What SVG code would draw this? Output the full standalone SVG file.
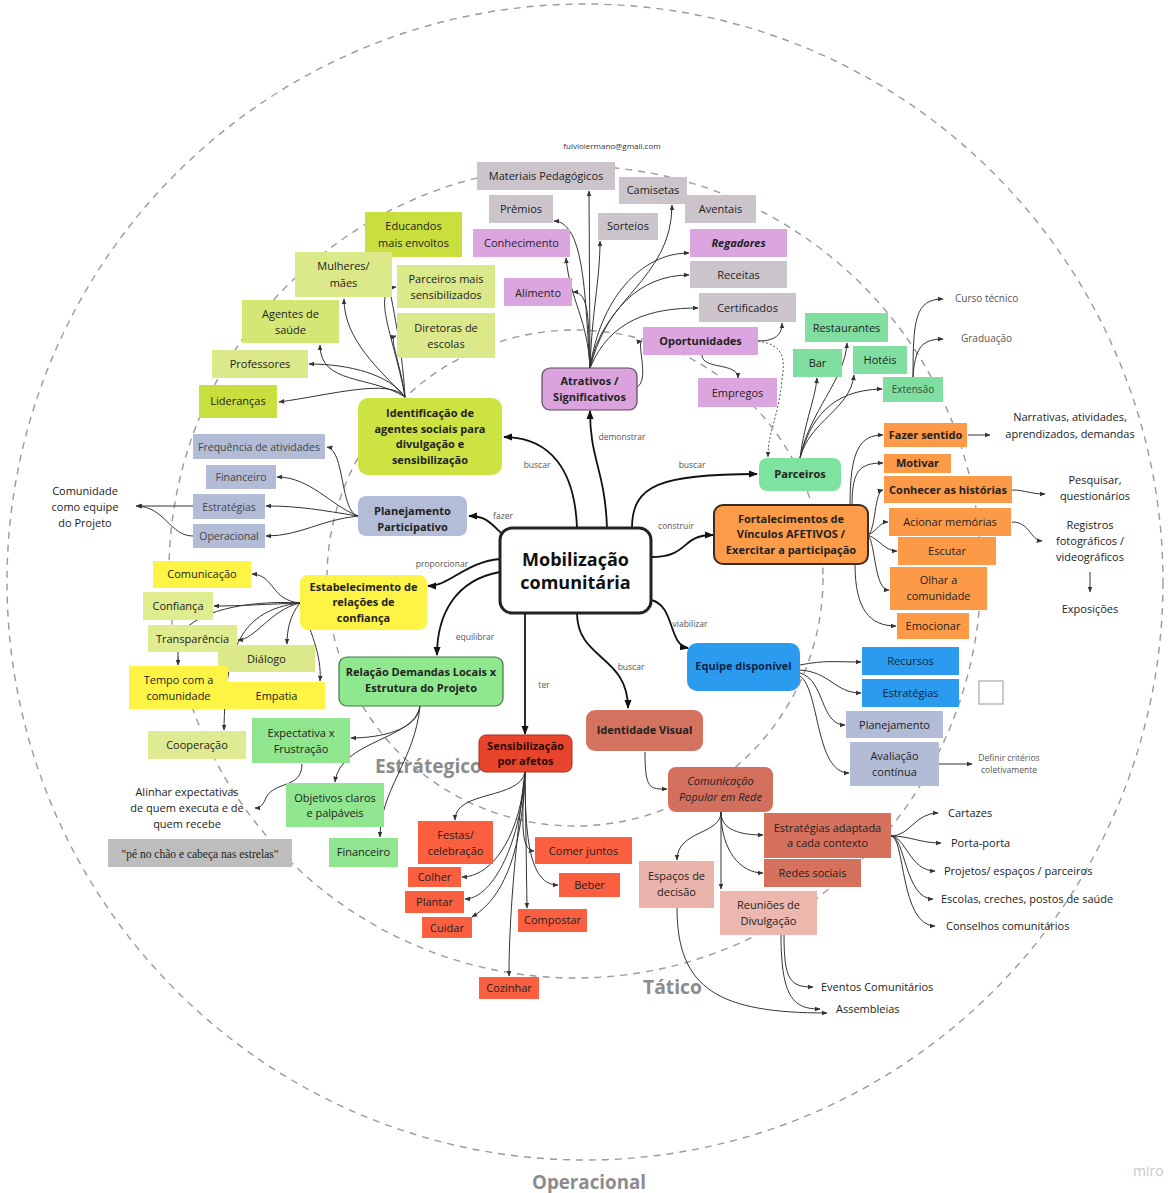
<svg xmlns="http://www.w3.org/2000/svg" width="1168" height="1193" viewBox="0 0 1168 1193">
<defs>
<style>
.ring{fill:none;stroke:#9a9a9a;stroke-width:1.4;stroke-dasharray:7 6}
.zone{font-family:"Open Sans","Liberation Sans",sans-serif;font-weight:700;font-size:20px;fill:#8c8c8c}
.c{fill:none;stroke:#333;stroke-width:1;marker-end:url(#a)}
.m{fill:none;stroke:#111;stroke-width:1.8;marker-end:url(#A)}
.dot{fill:none;stroke:#555;stroke-width:1;stroke-dasharray:2 2;marker-end:url(#a)}
.t{font-family:"Open Sans","Liberation Sans",sans-serif;font-size:11px;fill:#222;text-anchor:middle}
.s{font-size:10.5px}
.b{font-weight:700}
.i{font-style:italic}
.n{font-family:"Open Sans","Liberation Sans",sans-serif;font-size:11px;fill:#222}
.g{fill:#555;font-size:10px}
.lbl{font-family:"Open Sans","Liberation Sans",sans-serif;font-size:8.5px;fill:#555;text-anchor:middle}
.lime1{fill:#c8df3e}.lime2{fill:#dbe98b}.lime3{fill:#d4e775}
.gray{fill:#cbc5cb}.pink{fill:#dba6df}.grn{fill:#80dfa0}.org{fill:#fd9a48}
.pg{fill:#b3bcd6}.yel{fill:#fef445}.lg{fill:#8fe68f}.red{fill:#fa5f3f}
.sal{fill:#d6715e}.lp{fill:#eab4aa}.blu{fill:#2b9bf0}
</style>
<marker id="a" viewBox="0 0 10 10" refX="9" refY="5" markerWidth="6" markerHeight="6" markerUnits="userSpaceOnUse" orient="auto"><path d="M0,1 L10,5 L0,9 z" fill="#333"/></marker>
<marker id="A" viewBox="0 0 10 10" refX="9" refY="5" markerWidth="9" markerHeight="9" markerUnits="userSpaceOnUse" orient="auto"><path d="M0,1 L10,5 L0,9 z" fill="#111"/></marker>
</defs>
<rect width="1168" height="1193" fill="#fff"/>

<!-- planning levels -->
<g id="rings">
<circle class="ring" cx="585" cy="582" r="578"/>
<circle class="ring" cx="575" cy="572" r="406"/>
<circle class="ring" cx="575" cy="578" r="248"/>
<text class="zone" x="375" y="773" textLength="107" lengthAdjust="spacingAndGlyphs">Estrátegico</text>
<text class="zone" x="643" y="994" textLength="59" lengthAdjust="spacingAndGlyphs">Tático</text>
<text class="zone" x="532" y="1189" textLength="114" lengthAdjust="spacingAndGlyphs">Operacional</text>
<text x="1133" y="1176" font-family="Open Sans, sans-serif" font-size="14" fill="#c8c8c8">miro</text>
</g>

<g id="connectors">
<!-- from the centre -->
<path class="m" d="M577,528 C575,470 550,437 504,437"/>
<path class="m" d="M607,528 C605,470 590,460 590,411"/>
<path class="m" d="M632,528 C632,485 660,474 757,474"/>
<path class="m" d="M501,533 C490,522 485,516 469,516"/>
<path class="m" d="M651,557 C690,557 680,535 713,535"/>
<path class="m" d="M500,559 C465,562 450,586 428,586"/>
<path class="m" d="M500,572 C455,580 437,615 437,655"/>
<path class="m" d="M525,613 L525,734"/>
<path class="m" d="M577,613 C577,660 628,655 628,708"/>
<path class="m" d="M651,600 C675,605 668,645 688,648"/>

<!-- agentes sociais -->
<path class="c" d="M405,397 C390,378 330,395 279,402"/>
<path class="c" d="M405,397 C390,375 350,364 309,364"/>
<path class="c" d="M405,397 C370,375 320,385 320,345"/>
<path class="c" d="M405,397 C380,370 344,340 344,299"/>
<path class="c" d="M405,397 C402,340 390,300 385,258"/>
<path class="c" d="M405,397 C395,340 370,290 396,287"/>
<path class="c" d="M405,397 C400,360 388,338 396,336"/>

<!-- atrativos -->
<path class="c" d="M590,368 L589,191"/>
<path class="c" d="M590,368 C585,300 585,222 554,221"/>
<path class="c" d="M590,368 C588,320 570,300 566,258"/>
<path class="c" d="M590,368 C588,320 590,292 573,292"/>
<path class="c" d="M590,368 C592,310 600,280 600,241"/>
<path class="c" d="M590,368 C600,300 672,280 672,205"/>
<path class="c" d="M590,368 C600,300 640,253 689,253"/>
<path class="c" d="M590,368 C605,310 640,275 689,275"/>
<path class="c" d="M590,368 C610,320 650,308 698,308"/>
<path class="c" d="M637,387 C650,380 636,342 642,341"/>
<path class="c" d="M758,341 C775,341 782,335 782,323"/>
<path class="dot" d="M758,341 C785,345 785,360 782,380 C778,420 768,430 768,457"/>
<path class="c" d="M702,355 C702,370 738,362 738,378"/>

<!-- parceiros -->
<path class="c" d="M800,458 C805,420 815,400 817,378"/>
<path class="c" d="M800,458 C810,410 845,380 847,343"/>
<path class="c" d="M800,458 C810,420 850,410 854,375"/>
<path class="c" d="M800,458 C810,420 830,390 882,389"/>
<path class="c" d="M913,377 C913,320 915,299 943,299"/>
<path class="c" d="M913,377 C915,350 920,339 943,339"/>

<!-- vinculos afetivos -->
<path class="c" d="M850,505 C850,450 860,435 883,435"/>
<path class="c" d="M852,505 C852,470 860,463 883,463"/>
<path class="c" d="M868,535 C876,530 874,492 883,490"/>
<path class="c" d="M868,535 C878,530 880,522 888,522"/>
<path class="c" d="M868,535 C880,540 885,551 897,551"/>
<path class="c" d="M868,535 C876,545 874,590 889,590"/>
<path class="c" d="M855,564 C855,610 870,626 896,626"/>
<path class="c" d="M968,435 L990,435"/>
<path class="c" d="M1012,490 C1025,490 1030,494 1045,494"/>
<path class="c" d="M1012,522 C1030,522 1030,540 1042,541"/>
<path class="c" d="M1090,572 L1090,592"/>

<!-- planejamento -->
<path class="c" d="M358,516 C340,512 345,450 327,447"/>
<path class="c" d="M358,516 C330,505 310,477 277,477"/>
<path class="c" d="M358,516 C320,510 300,506 266,506"/>
<path class="c" d="M358,516 C320,520 300,536 266,536"/>
<path class="c" d="M193,506 L136,506"/>
<path class="c" d="M193,536 C170,536 165,507 137,506"/>

<!-- confianca -->
<path class="c" d="M300,603 C270,600 275,575 252,574"/>
<path class="c" d="M300,603 C270,604 240,606 214,606"/>
<path class="c" d="M300,603 C270,610 255,640 238,640"/>
<path class="c" d="M300,603 C290,615 287,630 287,644"/>
<path class="c" d="M300,603 C310,630 322,655 320,681"/>
<path class="c" d="M300,603 C240,610 225,650 224,730"/>
<path class="c" d="M300,603 C250,600 190,610 178,640 L178,665"/>

<!-- demandas locais -->
<path class="c" d="M420,706 C418,730 380,738 351,738"/>
<path class="c" d="M420,706 C415,740 340,740 335,782"/>
<path class="c" d="M420,706 C415,760 380,790 380,837"/>
<path class="c" d="M302,764 C302,790 272,780 265,800 C262,806 260,808 255,808"/>

<!-- afetos -->
<path class="c" d="M525,772 C520,800 455,790 455,820"/>
<path class="c" d="M525,772 C520,840 490,877 462,877"/>
<path class="c" d="M525,772 C520,850 490,899 465,899"/>
<path class="c" d="M525,772 C522,860 500,900 472,917"/>
<path class="c" d="M525,772 C522,820 520,850 534,851"/>
<path class="c" d="M525,772 C525,840 530,885 558,885"/>
<path class="c" d="M525,772 L527,908"/>
<path class="c" d="M525,772 C515,850 509,920 509,976"/>

<!-- identidade visual -->
<path class="c" d="M645,752 C645,790 650,789 667,789"/>
<path class="c" d="M721,812 C721,835 677,830 677,860"/>
<path class="c" d="M721,812 L721,889"/>
<path class="c" d="M721,812 C721,830 740,835 763,835"/>
<path class="c" d="M721,812 C721,850 740,873 763,873"/>
<path class="c" d="M891,836 C910,836 915,813 938,813"/>
<path class="c" d="M891,836 C910,836 920,843 941,843"/>
<path class="c" d="M891,836 C905,836 910,871 935,871"/>
<path class="c" d="M891,836 C905,836 905,899 933,899"/>
<path class="c" d="M891,836 C905,836 900,926 935,926"/>
<path class="c" d="M784,935 C784,980 790,987 813,987"/>
<path class="c" d="M781,935 C781,1000 795,1009 820,1009"/>
<path class="c" d="M677,908 C677,990 720,1013 827,1013"/>

<!-- equipe -->
<path class="c" d="M800,665 C825,660 835,662 861,662"/>
<path class="c" d="M800,670 C830,672 835,693 861,693"/>
<path class="c" d="M800,673 C825,680 820,725 845,725"/>
<path class="c" d="M800,676 C820,690 815,773 849,773"/>
<path class="c" d="M939,764 L972,764"/>

<!-- verbs -->
<text class="lbl" x="537" y="468">buscar</text>
<text class="lbl" x="622" y="440">demonstrar</text>
<text class="lbl" x="692" y="468">buscar</text>
<text class="lbl" x="503" y="519">fazer</text>
<text class="lbl" x="676" y="529">construir</text>
<text class="lbl" x="442" y="567">proporcionar</text>
<text class="lbl" x="475" y="640">equilibrar</text>
<text class="lbl" x="690" y="627">viabilizar</text>
<text class="lbl" x="631" y="670">buscar</text>
<text class="lbl" x="544" y="688">ter</text>
</g>

<!-- central node -->
<g id="mobilizacao">
<rect x="500" y="528" width="151" height="85" rx="12" fill="#fff" stroke="#222" stroke-width="3"/>
<text class="t b" x="575.5" y="566" style="font-size:18px;fill:#111">Mobilização</text>
<text class="t b" x="575.5" y="589" style="font-size:18px;fill:#111">comunitária</text>
</g>

<g id="identificacao">
<rect x="358" y="398" width="144" height="77" rx="10" fill="#cde342"/>
<text class="t b" x="430" y="417">Identificação de</text>
<text class="t b" x="430" y="433">agentes sociais para</text>
<text class="t b" x="430" y="448">divulgação e</text>
<text class="t b" x="430" y="464">sensibilização</text>
</g>
<g id="educandos"><rect class="lime1" x="365" y="212" width="97" height="45"/><text class="t" x="413.5" y="230">Educandos</text><text class="t" x="413.5" y="247">mais envoltos</text></g>
<g id="mulheres"><rect class="lime2" x="295" y="252" width="97" height="45"/><text class="t" x="343.5" y="270">Mulheres/</text><text class="t" x="343.5" y="287">mães</text></g>
<g id="parceiros-mais"><rect class="lime2" x="397" y="265" width="98" height="43"/><text class="t" x="446" y="283">Parceiros mais</text><text class="t" x="446" y="299">sensibilizados</text></g>
<g id="agentes-saude"><rect class="lime3" x="242" y="300" width="97" height="43"/><text class="t" x="290.5" y="318">Agentes de</text><text class="t" x="290.5" y="334">saúde</text></g>
<g id="diretoras"><rect class="lime2" x="397" y="313" width="98" height="45"/><text class="t" x="446" y="332">Diretoras de</text><text class="t" x="446" y="348">escolas</text></g>
<g id="professores"><rect class="lime2" x="212" y="350" width="96" height="28"/><text class="t" x="260" y="368">Professores</text></g>
<g id="liderancas"><rect class="lime1" x="199" y="385" width="78" height="33"/><text class="t" x="238" y="405">Lideranças</text></g>

<g id="atrativos">
<rect x="542" y="368" width="95" height="42" rx="8" fill="#daa3dd" stroke="#5a4a5a" stroke-width="1.2"/>
<text class="t b" x="589.5" y="385">Atrativos /</text>
<text class="t b" x="589.5" y="401">Significativos</text>
</g>
<text class="t" x="612" y="149" style="font-size:8px;fill:#333">fulvioiermano@gmail.com</text>
<g id="materiais"><rect class="gray" x="477" y="162" width="138" height="28"/><text class="t" x="546" y="180">Materiais Pedagógicos</text></g>
<g id="camisetas"><rect class="gray" x="619" y="177" width="68" height="27"/><text class="t" x="653" y="194">Camisetas</text></g>
<g id="premios"><rect class="gray" x="489" y="195" width="64" height="28"/><text class="t" x="521" y="213">Prêmios</text></g>
<g id="aventais"><rect class="gray" x="685" y="195" width="71" height="28"/><text class="t" x="720.5" y="213">Aventais</text></g>
<g id="sorteios"><rect class="gray" x="598" y="213" width="60" height="27"/><text class="t" x="628" y="230">Sorteios</text></g>
<g id="conhecimento"><rect class="pink" x="473" y="229" width="97" height="28"/><text class="t" x="521.5" y="247">Conhecimento</text></g>
<g id="regadores"><rect class="pink" x="690" y="229" width="97" height="28"/><text class="t b i" x="738.5" y="247">Regadores</text></g>
<g id="receitas"><rect class="gray" x="690" y="261" width="97" height="27"/><text class="t" x="738.5" y="279">Receitas</text></g>
<g id="alimento"><rect class="pink" x="504" y="278" width="68" height="28"/><text class="t" x="538" y="297">Alimento</text></g>
<g id="certificados"><rect class="gray" x="699" y="293" width="97" height="29"/><text class="t" x="747.5" y="312">Certificados</text></g>
<g id="oportunidades"><rect class="pink" x="643" y="327" width="115" height="28"/><text class="t b" x="700.5" y="345">Oportunidades</text></g>
<g id="empregos"><rect class="pink" x="698" y="378" width="79" height="29"/><text class="t" x="737.5" y="397">Empregos</text></g>

<g id="parceiros">
<rect x="759" y="458" width="82" height="33" rx="8" fill="#7ee3a0"/>
<text class="t b" x="800" y="478">Parceiros</text>
</g>
<g id="restaurantes"><rect class="grn" x="805" y="313" width="83" height="29"/><text class="t" x="846.5" y="332">Restaurantes</text></g>
<g id="bar"><rect class="grn" x="793" y="349" width="49" height="28"/><text class="t" x="817.5" y="367">Bar</text></g>
<g id="hoteis"><rect class="grn" x="853" y="346" width="54" height="28"/><text class="t" x="880" y="364">Hotéis</text></g>
<g id="extensao"><rect class="grn" x="883" y="377" width="60" height="25"/><text class="t" x="913" y="393" style="font-size:10px;fill:#2f4f3a">Extensão</text></g>
<text class="n g" x="955" y="302">Curso técnico</text>
<text class="n g" x="961" y="342">Graduação</text>

<g id="fortalecimentos">
<rect x="714" y="505" width="154" height="59" rx="9" fill="#fd9c48" stroke="#3b2b20" stroke-width="2"/>
<text class="t b" x="791" y="523">Fortalecimentos de</text>
<text class="t b" x="791" y="538">Vínculos AFETIVOS /</text>
<text class="t b" x="791" y="554">Exercitar a participação</text>
</g>
<g id="fazer-sentido"><rect class="org" x="884" y="423" width="83" height="24"/><text class="t b" x="925.5" y="439">Fazer sentido</text></g>
<g id="motivar"><rect class="org" x="884" y="454" width="67" height="19"/><text class="t b" x="917.5" y="467">Motivar</text></g>
<g id="conhecer"><rect class="org" x="884" y="476" width="128" height="27"/><text class="t b" x="948" y="494">Conhecer as histórias</text></g>
<g id="acionar"><rect class="org" x="889" y="508" width="122" height="28"/><text class="t" x="950" y="526">Acionar memórias</text></g>
<g id="escutar"><rect class="org" x="898" y="537" width="98" height="28"/><text class="t" x="947" y="555">Escutar</text></g>
<g id="olhar"><rect class="org" x="890" y="567" width="97" height="43"/><text class="t" x="938.5" y="584">Olhar a</text><text class="t" x="938.5" y="600">comunidade</text></g>
<g id="emocionar"><rect class="org" x="897" y="613" width="72" height="26"/><text class="t" x="933" y="630">Emocionar</text></g>
<text class="t" x="1070" y="421">Narrativas, atividades,</text>
<text class="t" x="1070" y="438">aprendizados, demandas</text>
<text class="t" x="1095" y="484">Pesquisar,</text>
<text class="t" x="1095" y="500">questionários</text>
<text class="t" x="1090" y="529">Registros</text>
<text class="t" x="1090" y="545">fotográficos /</text>
<text class="t" x="1090" y="561">videográficos</text>
<text class="t" x="1090" y="613">Exposições</text>

<g id="planejamento">
<rect x="358" y="496" width="109" height="40" rx="8" fill="#b3bdd8"/>
<text class="t b" x="412.5" y="515">Planejamento</text>
<text class="t b" x="412.5" y="531">Participativo</text>
</g>
<g id="frequencia"><rect class="pg" x="193" y="434" width="132" height="25"/><text class="t s" x="259" y="451" style="fill:#444">Frequência de atividades</text></g>
<g id="financeiro-plan"><rect class="pg" x="206" y="465" width="70" height="24"/><text class="t s" x="241" y="481" style="fill:#444">Financeiro</text></g>
<g id="estrategias-plan"><rect class="pg" x="193" y="494" width="72" height="25"/><text class="t s" x="229" y="511" style="fill:#444">Estratégias</text></g>
<g id="operacional"><rect class="pg" x="193" y="524" width="72" height="24"/><text class="t s" x="229" y="540" style="fill:#444">Operacional</text></g>
<text class="t" x="85" y="495">Comunidade</text>
<text class="t" x="85" y="511">como equipe</text>
<text class="t" x="85" y="527">do Projeto</text>

<g id="estabelecimento">
<rect x="300" y="575" width="127" height="55" rx="8" fill="#fef445"/>
<text class="t b" x="363.5" y="591">Estabelecimento de</text>
<text class="t b" x="363.5" y="606">relações de</text>
<text class="t b" x="363.5" y="622">confiança</text>
</g>
<g id="comunicacao"><rect class="yel" x="153" y="561" width="98" height="27"/><text class="t" x="202" y="578">Comunicação</text></g>
<g id="confianca"><rect fill="#e0ec90" x="143" y="592" width="70" height="28"/><text class="t" x="178" y="610">Confiança</text></g>
<g id="transparencia"><rect fill="#e0ec90" x="148" y="625" width="89" height="27"/><text class="t" x="192.5" y="643">Transparência</text></g>
<g id="dialogo"><rect class="lime2" x="218" y="645" width="97" height="27"/><text class="t" x="266.5" y="663">Diálogo</text></g>
<g id="tempo"><rect class="yel" x="129" y="666" width="99" height="43"/><text class="t" x="178.5" y="684">Tempo com a</text><text class="t" x="178.5" y="700">comunidade</text></g>
<g id="empatia"><rect class="yel" x="228" y="682" width="97" height="27"/><text class="t" x="276.5" y="700">Empatia</text></g>
<g id="cooperacao"><rect fill="#dfeb92" x="148" y="731" width="98" height="28"/><text class="t" x="197" y="749">Cooperação</text></g>

<g id="relacao">
<rect x="339" y="657" width="164" height="49" rx="8" fill="#8fe88d" stroke="#3f7a45" stroke-width="1.2"/>
<text class="t b" x="421" y="676">Relação Demandas Locais x</text>
<text class="t b" x="421" y="692">Estrutura do Projeto</text>
</g>
<g id="expectativa"><rect class="lg" x="252" y="718" width="98" height="45"/><text class="t" x="301" y="737">Expectativa x</text><text class="t" x="301" y="753">Frustração</text></g>
<g id="objetivos"><rect class="lg" x="286" y="783" width="98" height="44"/><text class="t" x="335" y="802">Objetivos claros</text><text class="t" x="335" y="817">e palpáveis</text></g>
<g id="financeiro-rel"><rect class="lg" x="329" y="838" width="69" height="29"/><text class="t" x="363.5" y="856">Financeiro</text></g>
<text class="t" x="187" y="796">Alinhar expectativas</text>
<text class="t" x="187" y="812">de quem executa e de</text>
<text class="t" x="187" y="828">quem recebe</text>
<g id="pe-no-chao"><rect fill="#bdbdbd" x="108" y="839" width="184" height="28"/><text class="t" x="200" y="858" style="font-family:'Liberation Serif','DejaVu Serif',serif;font-size:11.5px">"pé no chão e cabeça nas estrelas"</text></g>

<g id="sensibilizacao">
<rect x="479" y="735" width="93" height="37" rx="7" fill="#e8442c" stroke="#a53020" stroke-width="1"/>
<text class="t b" x="525.5" y="750" style="fill:#2a0a00">Sensibilização</text>
<text class="t b" x="525.5" y="765" style="fill:#2a0a00">por afetos</text>
</g>
<g id="festas"><rect class="red" x="418" y="821" width="75" height="43"/><text class="t" x="455.5" y="839">Festas/</text><text class="t" x="455.5" y="855">celebração</text></g>
<g id="comer"><rect class="red" x="535" y="837" width="97" height="27"/><text class="t" x="583.5" y="855">Comer juntos</text></g>
<g id="colher"><rect class="red" x="408" y="867" width="53" height="20"/><text class="t" x="434.5" y="881">Colher</text></g>
<g id="beber"><rect class="red" x="559" y="873" width="61" height="24"/><text class="t" x="589.5" y="889">Beber</text></g>
<g id="plantar"><rect class="red" x="405" y="891" width="59" height="22"/><text class="t" x="434.5" y="906">Plantar</text></g>
<g id="compostar"><rect class="red" x="518" y="909" width="69" height="23"/><text class="t" x="552.5" y="924">Compostar</text></g>
<g id="cuidar"><rect class="red" x="422" y="917" width="50" height="21"/><text class="t" x="447" y="932">Cuidar</text></g>
<g id="cozinhar"><rect class="red" x="479" y="977" width="60" height="22"/><text class="t" x="509" y="992">Cozinhar</text></g>

<g id="identidade-visual">
<rect x="586" y="710" width="117" height="41" rx="9" fill="#d4735f"/>
<text class="t b" x="644.5" y="734">Identidade Visual</text>
</g>
<g id="comunicacao-popular">
<rect x="668" y="767" width="105" height="45" rx="8" fill="#d3705d"/>
<text class="t i" x="720.5" y="785">Comunicação</text>
<text class="t i" x="720.5" y="801">Popular em Rede</text>
</g>
<g id="estrategias-adaptada"><rect class="sal" x="764" y="813" width="127" height="45"/><text class="t" x="827.5" y="832">Estratégias adaptada</text><text class="t" x="827.5" y="847">a cada contexto</text></g>
<g id="redes-sociais"><rect class="sal" x="764" y="859" width="97" height="28"/><text class="t" x="812.5" y="877">Redes sociais</text></g>
<g id="espacos"><rect class="lp" x="639" y="861" width="75" height="47"/><text class="t" x="676.5" y="880">Espaços de</text><text class="t" x="676.5" y="896">decisão</text></g>
<g id="reunioes"><rect fill="#ecb7ad" x="720" y="891" width="97" height="44"/><text class="t" x="768.5" y="909">Reuniões de</text><text class="t" x="768.5" y="925">Divulgação</text></g>
<text class="n" x="948" y="817">Cartazes</text>
<text class="n" x="951" y="847">Porta-porta</text>
<text class="n" x="944" y="875">Projetos/ espaços / parceiros</text>
<text class="n" x="941" y="903">Escolas, creches, postos de saúde</text>
<text class="n" x="946" y="930">Conselhos comunitários</text>
<text class="n" x="821" y="991">Eventos Comunitários</text>
<text class="n" x="836" y="1013">Assembleias</text>

<g id="equipe">
<rect x="687" y="643" width="113" height="48" rx="10" fill="#2b9bf0"/>
<text class="t b" x="743.5" y="670" style="fill:#0b2545">Equipe disponível</text>
</g>
<g id="recursos"><rect class="blu" x="862" y="647" width="97" height="28"/><text class="t" x="910.5" y="665" style="fill:#0b2545">Recursos</text></g>
<g id="estrategias-equipe"><rect class="blu" x="862" y="679" width="97" height="28"/><text class="t" x="910.5" y="697" style="fill:#0b2545">Estratégias</text></g>
<g id="quadro-vazio"><rect x="979" y="681" width="24" height="23" fill="#fff" stroke="#aaa" stroke-width="1.2"/></g>
<g id="planejamento-equipe"><rect class="pg" x="846" y="711" width="97" height="27"/><text class="t" x="894.5" y="729">Planejamento</text></g>
<g id="avaliacao"><rect class="pg" x="850" y="742" width="89" height="44"/><text class="t" x="894.5" y="760">Avaliação</text><text class="t" x="894.5" y="776">contínua</text></g>
<text class="t" x="1009" y="761" style="font-size:8.5px;fill:#555">Definir critérios</text>
<text class="t" x="1009" y="773" style="font-size:8.5px;fill:#555">coletivamente</text>
</svg>
